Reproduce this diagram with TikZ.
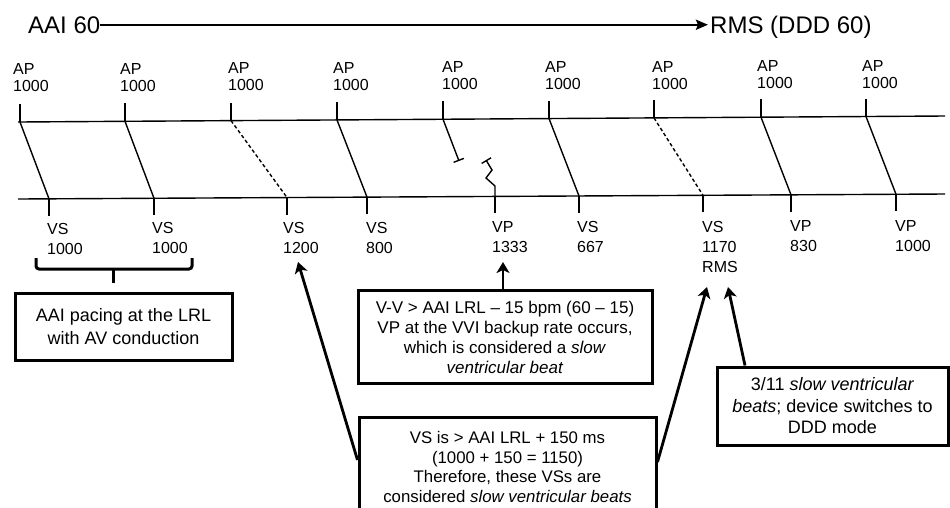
\documentclass[tikz,border=0pt]{standalone}
\usepackage{fontspec}
\setmainfont{Liberation Sans}
\usetikzlibrary{arrows.meta,calc}
\begin{document}
\begin{tikzpicture}[x=1pt,y=-1pt,
  lbl/.style={anchor=north west, inner sep=0pt, align=left, font=\fontsize{16}{17}\selectfont},
  vlbl/.style={anchor=north west, inner sep=0pt, align=left, font=\fontsize{16}{20}\selectfont},
  axis/.style={line width=1.4pt},
  cond/.style={line width=1.4pt},
  dcond/.style={line width=1.4pt, dash pattern=on 3.5pt off 2.5pt},
  box/.style={draw, line width=3pt, align=center, inner sep=0pt},
  arr/.style={line width=2.8pt, -{Stealth[length=11pt,width=13pt,inset=3pt]}},
  bracestyle/.style={line width=3pt, rounded corners=3pt},
  blk/.style={line width=1.4pt, -{Bar[width=11pt,line width=1.4pt]}},
]
\useasboundingbox (0,0) rectangle (950,507);

% header
\node[anchor=base west, inner sep=0pt, font=\fontsize{24}{24}\selectfont] (aai) at (28,33) {AAI 60};
\node[anchor=base west, inner sep=0pt, font=\fontsize{24}{24}\selectfont] (rms) at (710,33) {RMS (DDD 60)};
\draw[line width=2.4pt, -{Stealth[length=12pt,width=10pt,inset=2pt]}, shorten >=2pt] (aai.east) -- (aai.east -| rms.west);

% timelines
\coordinate (tl0) at (18,122); \coordinate (tl1) at (945,116);
\coordinate (bl0) at (18,199); \coordinate (bl1) at (945,194);
\draw[axis] (tl0) -- (tl1);
\draw[axis] (bl0) -- (bl1);

% atrial events
\foreach \i/\x/\y/\lx/\ly in {1/20/122.0/13/63.5, 2/125/121.3/120/63.1, 3/231/120.6/228/62.6,
  4/337/119.9/333/62.2, 5/443/119.2/442/61.7, 6/549/118.5/545/61.3, 7/654/117.9/652/60.9,
  8/761/117.2/757/60.4, 9/866/116.5/862/60.0}{
  \coordinate (a\i) at (\x,\y);
  \draw[cond] (a\i) -- ++(0,-18);
  \node[lbl] (ap\i) at (\lx,\ly) {AP\\1000};
}

% ventricular events
\foreach \i/\x/\y in {1/49/198.8, 2/154/198.3, 3/287/197.5, 4/367/197.1, 5/495/196.4,
  6/579/196.0, 7/703/195.3, 8/791/194.8, 9/896/194.3}{
  \coordinate (v\i) at (\x,\y);
  \draw[cond] (v\i) -- ++(0,17);
}
\node[vlbl] (vl1) at (47,223) {VS\\1000};
\node[vlbl] (vl2) at (152,222.6) {VS\\1000};
\node[vlbl] (vl3) at (283,222.2) {VS\\1200};
\node[vlbl] (vl4) at (366,221.9) {VS\\800};
\node[vlbl] (vl5) at (492,221.4) {VP\\1333};
\node[vlbl] (vl6) at (577,221.1) {VS\\667};
\node[vlbl] (vl7) at (702,220.7) {VS\\1170\\RMS};
\node[vlbl] (vl8) at (790,220.4) {VP\\830};
\node[vlbl] (vl9) at (895,220) {VP\\1000};

% conduction
\draw[cond] (a1) -- (v1);
\draw[cond] (a2) -- (v2);
\draw[dcond] (a3) -- (v3);
\draw[cond] (a4) -- (v4);
\draw[cond] (a6) -- (v6);
\draw[dcond] (a7) -- (v7);
\draw[cond] (a8) -- (v8);
\draw[cond] (a9) -- (v9);
% blocked conduction
\coordinate (blkA) at (459,161);
\draw[blk] (a5) -- (blkA);
% paced ventricular beat
\coordinate (zz1) at (495,186);
\coordinate (zz2) at (486,178);
\coordinate (zz3) at (492,170);
\coordinate (zz4) at (486,160);
\draw[blk] (v5) -- (zz1) -- (zz2) -- (zz3) -- (zz4);

% brace
\draw[bracestyle] (36,258) -- (36,269) -- (192,269) -- (192,258);
\draw[bracestyle] (113,269) -- (113,283);

% boxes
\node[box, minimum width=217pt, minimum height=67pt, font=\fontsize{18}{23}\selectfont] (b1) at (123.5,326.5)
  {AAI pacing at the LRL\\with AV conduction};
\node[box, minimum width=294pt, minimum height=93pt, font=\fontsize{17}{20}\selectfont] (b2) at (505,337)
  {V-V > AAI LRL – 15 bpm (60 – 15)\\VP at the VVI backup rate occurs,\\which is considered a \textit{slow}\\\textit{ventricular beat}};
\node[box, minimum width=297pt, minimum height=100pt, font=\fontsize{16.8}{19.6}\selectfont] (b3) at (507.5,467)
  {VS is > AAI LRL + 150 ms\\(1000 + 150 = 1150)\\Therefore, these VSs are\\considered \textit{slow ventricular beats}};
\node[box, minimum width=231pt, minimum height=78pt, font=\fontsize{18}{21.5}\selectfont] (b4) at (832.5,406)
  {3/11 \textit{slow ventricular}\\\textit{beats}; device switches to\\DDD mode};

% arrows
\coordinate (t1333) at (503,262);
\coordinate (t1200) at (298,262);
\coordinate (t1170a) at (707,287);
\coordinate (t1170b) at (728,287);
\draw[arr] (b2.north -| t1333) -- (t1333);
\draw[arr] (b3.west |- 0,460) -- (t1200);
\draw[arr] (b3.east |- 0,462) -- (t1170a);
\draw[arr] (b4.north -| 745,0) -- (t1170b);
\end{tikzpicture}
\end{document}
